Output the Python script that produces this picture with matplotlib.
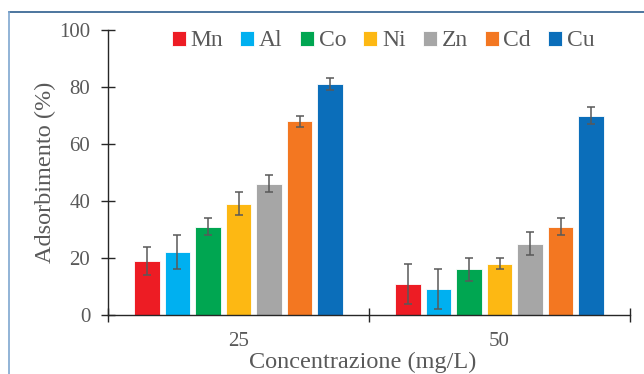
import numpy as np
import matplotlib
matplotlib.use('Agg')
import matplotlib.pyplot as plt
from matplotlib.lines import Line2D

# data
categories = ['25', '50']
metals = ['Mn', 'Al', 'Co', 'Ni', 'Zn', 'Cd', 'Cu']
values = {
    'Mn': [19, 11],
    'Al': [22, 9],
    'Co': [31, 16],
    'Ni': [39, 18],
    'Zn': [46, 25],
    'Cd': [68, 31],
    'Cu': [81, 70],
}
errors = {
    'Mn': [5, 7],
    'Al': [6, 7],
    'Co': [3, 4],
    'Ni': [4, 2],
    'Zn': [3, 4],
    'Cd': [2, 3],
    'Cu': [2, 3],
}
colors = ['#ED1C24', '#00B0F0', '#00A651', '#FDB813', '#A6A6A6', '#F37721', '#0B6EBA']

text_col = '#595959'
plt.rcParams['font.family'] = ['Liberation Serif', 'DejaVu Serif']

fig = plt.figure(figsize=(6.44, 3.74), dpi=100)
ax = fig.add_axes([108 / 644, 59 / 374, 522 / 644, 285 / 374])

x = np.arange(len(categories))
pitch = 0.117
width = 0.098
for i, m in enumerate(metals):
    pos = x + (i - 3) * pitch
    ax.bar(pos, values[m], width, color=colors[i], edgecolor='white',
           linewidth=0.6, label=m, zorder=2)
    ax.errorbar(pos, values[m], yerr=errors[m], fmt='none', ecolor='#595959',
                elinewidth=1.1, capsize=2.9, capthick=1.1, zorder=3)

ax.set_xlim(-0.5, 1.5)
ax.set_ylim(0, 100)
ax.set_yticks([0, 20, 40, 60, 80, 100])
ax.set_xticks(x)
ax.set_xticklabels(categories)
ax.set_xticks([-0.5, 0.5, 1.5], minor=True)

for s in ['top', 'right']:
    ax.spines[s].set_visible(False)
for s in ['left', 'bottom']:
    ax.spines[s].set_color('#262626')
    ax.spines[s].set_linewidth(1.0)

ax.tick_params(axis='y', direction='inout', length=9.5, width=1.0, color='#262626',
               labelsize=15, labelcolor=text_col, pad=8)
ax.tick_params(axis='x', which='major', length=0, labelsize=15,
               labelcolor=text_col, pad=12)
ax.tick_params(axis='x', which='minor', direction='inout', length=10, width=1.0,
               color='#262626')

ax.set_ylabel('Adsorbimento (%)', fontsize=17.5, color=text_col)
ax.yaxis.set_label_coords(-0.1, 0.5)
ax.set_xlabel('Concentrazione (mg/L)', fontsize=17.5, color=text_col)
ax.xaxis.set_label_coords(0.4885, -0.128)

leg = ax.legend(loc='center', bbox_to_anchor=(0.527, 0.962), ncol=7, frameon=False,
                fontsize=17, handlelength=0.6, handleheight=0.6,
                handletextpad=0.2, columnspacing=0.72, borderpad=0, borderaxespad=0)
for t in leg.get_texts():
    t.set_color(text_col)

# frame lines of the cropped figure
fig.add_artist(Line2D([9 / 644, 1], [1 - 12 / 374, 1 - 12 / 374], color='#2E5E8E', lw=1.2))
fig.add_artist(Line2D([9 / 644, 9 / 644], [0, 1 - 12 / 374], color='#7FA7D0', lw=1.2))

fig.savefig('out.png', dpi=100)
